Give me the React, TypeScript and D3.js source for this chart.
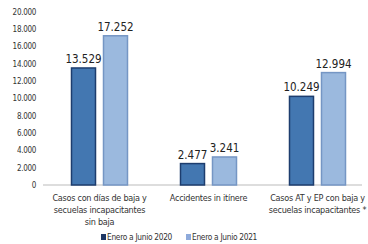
import React from 'react';
import { scaleBand, scaleLinear } from 'd3';

const categories = [
  ['Casos con días de baja y', 'secuelas incapacitantes', 'sin baja'],
  ['Accidentes in itínere'],
  ['Casos AT y EP con baja y', 'secuelas incapacitantes *'],
];
const series = ['Enero a Junio 2020', 'Enero a Junio 2021'];
const values2020 = [13529, 2477, 10249];
const values2021 = [17252, 3241, 12994];
const ticks = [0, 2000, 4000, 6000, 8000, 10000, 12000, 14000, 16000, 18000, 20000];

const fills = ['#4377b1', '#9bb9de'];
const strokes = ['#1d3d6e', '#7596c4'];
const legendFills = ['#1f3864', '#8eaadb'];

const fmt = (v: number) => v.toLocaleString('de-DE');
const font = "'DejaVu Sans Condensed', sans-serif";

const App = () => {
  const width = 368;
  const height = 244;
  const y = scaleLinear().domain([0, 20000]).range([185, 12]);
  const x0 = scaleBand<number>().domain([0, 1, 2]).range([45, 372]);
  const x1 = scaleBand<number>().domain([0, 1]).range([0, 56]).paddingInner(0.25);
  const data = [values2020, values2021];

  return (
    <svg
      width={width}
      height={height}
      style={{ position: 'absolute', left: 0, top: 0, background: '#fff' }}
      fontFamily={font}
    >
      {ticks.map((t) => (
        <text key={t} x={36} y={y(t)} dy='0.35em' fontSize={8} letterSpacing={-0.3} textAnchor='end' fill='#333'>
          {t === 0 ? '0' : fmt(t)}
        </text>
      ))}
      <line x1={43} x2={362} y1={y(0)} y2={y(0)} stroke='#bbb' strokeWidth={1} />
      {categories.map((lines, i) => {
        const cx = (x0(i) as number) + x0.bandwidth() / 2;
        const gx = cx - 28;
        return (
          <g key={i}>
            {data.map((vals, s) => {
              const bx = gx + (x1(s) as number);
              const by = y(vals[i]);
              return (
                <g key={s}>
                  <rect
                    x={bx}
                    y={by}
                    width={x1.bandwidth()}
                    height={y(0) - by}
                    fill={fills[s]}
                    stroke={strokes[s]}
                    strokeWidth={1.5}
                  />
                  <text
                    x={bx + x1.bandwidth() / 2}
                    y={by - 5}
                    fontSize={11.5}
                    textAnchor='middle'
                    fill='#222'
                  >
                    {fmt(vals[i])}
                  </text>
                </g>
              );
            })}
            {lines.map((l, k) => (
              <text key={k} x={cx} y={201 + k * 12} fontSize={9} letterSpacing={-0.25} textAnchor='middle' fill='#333'>
                {l}
              </text>
            ))}
          </g>
        );
      })}
      {series.map((s, i) => {
        const lx = 101 + i * 85;
        return (
          <g key={s}>
            <rect x={lx} y={234} width={5} height={6} fill={legendFills[i]} />
            <text x={lx + 6} y={240} fontSize={8.3} letterSpacing={-0.3} fill='#333'>
              {s}
            </text>
          </g>
        );
      })}
    </svg>
  );
};

export default App;
